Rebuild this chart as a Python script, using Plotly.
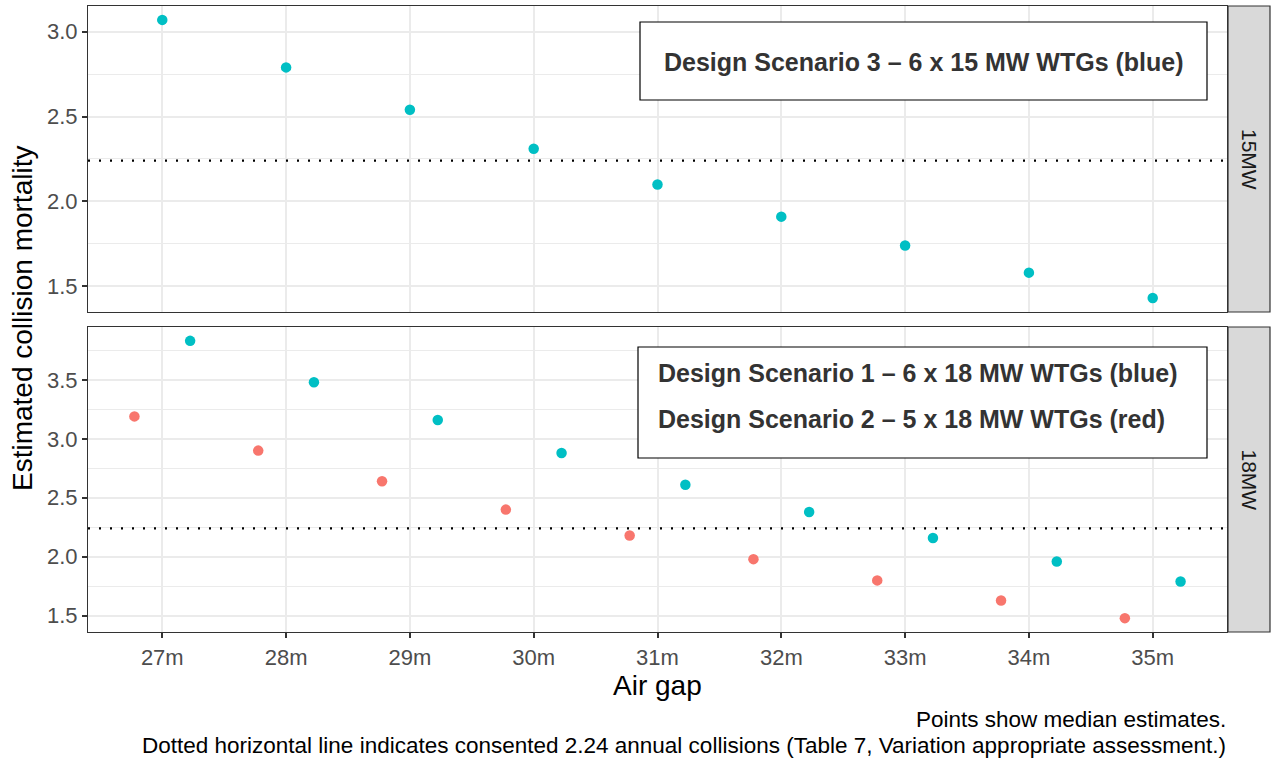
import plotly.graph_objects as go

# ---------------- data ----------------
categories = ["27m", "28m", "29m", "30m", "31m", "32m", "33m", "34m", "35m"]
mw15_blue = [3.07, 2.79, 2.54, 2.31, 2.10, 1.91, 1.74, 1.58, 1.43]
mw18_blue = [3.83, 3.48, 3.16, 2.88, 2.61, 2.38, 2.16, 1.96, 1.79]
mw18_red = [3.19, 2.90, 2.64, 2.40, 2.18, 1.98, 1.80, 1.63, 1.48]
threshold = 2.24
facet_labels = ["15MW", "18MW"]
box_top_text = "Design Scenario 3 \u2013 6 x 15 MW WTGs (blue)"
box_bottom_text = ["Design Scenario 1 \u2013 6 x 18 MW WTGs (blue)",
                   "Design Scenario 2 \u2013 5 x 18 MW WTGs (red)"]
caption = ["Points show median estimates.",
           "Dotted horizontal line indicates consented 2.24 annual collisions (Table 7, Variation appropriate assessment.)"]

BLUE = "#00BFC4"
RED = "#F8766D"
FONT = "Liberation Sans, Arial, sans-serif"
GRID = "#EBEBEB"
BORDER = "#333333"
TICKC = "#4D4D4D"

pos = list(range(1, len(categories) + 1))
dodge = 0.225


def expand(vals):
    lo, hi = min(vals), max(vals)
    pad = (hi - lo) * 0.05
    return [lo - pad, hi + pad]


fig = go.Figure()
fig.add_trace(go.Scatter(x=pos, y=mw15_blue, mode="markers", xaxis="x2", yaxis="y2",
                         marker=dict(color=BLUE, size=10.5), showlegend=False))
fig.add_trace(go.Scatter(x=[p - dodge for p in pos], y=mw18_red, mode="markers", xaxis="x", yaxis="y",
                         marker=dict(color=RED, size=10.5), showlegend=False))
fig.add_trace(go.Scatter(x=[p + dodge for p in pos], y=mw18_blue, mode="markers", xaxis="x", yaxis="y",
                         marker=dict(color=BLUE, size=10.5), showlegend=False))

ax_common = dict(showline=True, mirror=True, linecolor=BORDER, linewidth=1.2,
                 showgrid=True, gridcolor=GRID, gridwidth=1.5, zeroline=False)

fig.update_layout(
    width=1272, height=758,
    margin=dict(l=88, r=45, t=6, b=126),
    paper_bgcolor="white", plot_bgcolor="white",
    font=dict(family=FONT),
    xaxis=dict(domain=[0, 1], anchor="y", range=[0.4, len(categories) + 0.6],
               tickmode="array", tickvals=pos, ticktext=categories,
               ticks="outside", ticklen=5, tickwidth=1.5, tickcolor=BORDER,
               tickfont=dict(size=22, color=TICKC, family=FONT), **ax_common),
    xaxis2=dict(domain=[0, 1], anchor="y2", range=[0.4, len(categories) + 0.6], matches="x",
                tickmode="array", tickvals=pos, showticklabels=False, ticks="", **ax_common),
    yaxis=dict(domain=[0, 0.4872], anchor="x", range=expand(mw18_blue + mw18_red),
               tickmode="linear", tick0=0, dtick=0.5, tickformat=".1f",
               ticks="outside", ticklen=5, tickwidth=1.5, tickcolor=BORDER,
               tickfont=dict(size=22, color=TICKC, family=FONT),
               minor=dict(dtick=0.25, tick0=0, showgrid=True, gridcolor=GRID, gridwidth=0.8),
               **ax_common),
    yaxis2=dict(domain=[0.5112, 1], anchor="x2", range=expand(mw15_blue),
                tickmode="linear", tick0=0, dtick=0.5, tickformat=".1f",
                ticks="outside", ticklen=5, tickwidth=1.5, tickcolor=BORDER,
                tickfont=dict(size=22, color=TICKC, family=FONT),
                minor=dict(dtick=0.25, tick0=0, showgrid=True, gridcolor=GRID, gridwidth=0.8),
                **ax_common),
)

# dotted threshold lines
for yref, xref in (("y", "x domain"), ("y2", "x2 domain")):
    fig.add_shape(type="line", xref=xref, yref=yref, x0=0, x1=1, y0=threshold, y1=threshold,
                  line=dict(color="black", width=2.2, dash="2px,9px"), layer="above")

# facet strips
W = 1139.0
H = 626.0
for yref, lab in (("y2 domain", facet_labels[0]), ("y domain", facet_labels[1])):
    fig.add_shape(type="rect", xref="paper", yref=yref, x0=(1228 - 88) / W, x1=(1270 - 88) / W,
                  y0=0, y1=1, fillcolor="#D9D9D9", line=dict(color=BORDER, width=1.2))
    fig.add_annotation(xref="paper", yref=yref, x=(1249 - 88) / W, y=0.5, text=lab,
                       textangle=90, showarrow=False, xanchor="center", yanchor="middle",
                       font=dict(size=21, color="#1A1A1A", family=FONT))


def px_x(v):
    return (v - 88) / W


def px_y(v):
    return (632 - v) / H


# annotation boxes
fig.add_shape(type="rect", xref="paper", yref="paper", x0=px_x(640), x1=px_x(1207),
              y0=px_y(100), y1=px_y(22), fillcolor="white", line=dict(color="black", width=1.2),
              layer="above")
fig.add_annotation(xref="paper", yref="paper", x=px_x(923.5), y=px_y(62), text="<b>%s</b>" % box_top_text,
                   showarrow=False, xanchor="center", yanchor="middle",
                   font=dict(size=25, color="#333333", family=FONT))
fig.add_shape(type="rect", xref="paper", yref="paper", x0=px_x(638), x1=px_x(1207),
              y0=px_y(458), y1=px_y(347), fillcolor="white", line=dict(color="black", width=1.2),
              layer="above")
for t, yy in zip(box_bottom_text, (373, 419)):
    fig.add_annotation(xref="paper", yref="paper", x=px_x(656), y=px_y(yy), text="<b>%s</b>" % t,
                       showarrow=False, xanchor="left", yanchor="middle",
                       font=dict(size=25, color="#333333", family=FONT))

# axis titles
fig.add_annotation(xref="paper", yref="paper", x=px_x(22), y=px_y(319), text="Estimated collision mortality",
                   textangle=-90, showarrow=False, xanchor="center", yanchor="middle",
                   font=dict(size=28, color="black", family=FONT))
fig.add_annotation(xref="paper", yref="paper", x=px_x(657.5), y=px_y(686), text="Air gap",
                   showarrow=False, xanchor="center", yanchor="middle",
                   font=dict(size=28, color="black", family=FONT))

# caption
for t, yy in zip(caption, (719, 745)):
    fig.add_annotation(xref="paper", yref="paper", x=px_x(1228), y=px_y(yy), text=t,
                       showarrow=False, xanchor="right", yanchor="middle",
                       font=dict(size=22.5, color="black", family=FONT))

fig.write_html("out.html", config={"displayModeBar": False},
               post_script="document.body.style.margin='0';")
